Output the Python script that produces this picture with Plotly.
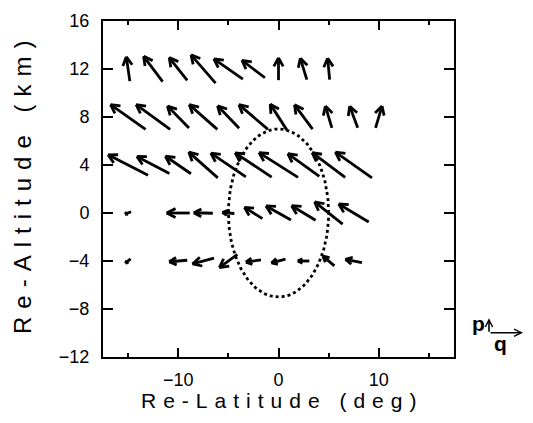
import numpy as np
import plotly.graph_objects as go

# ---------------- data ----------------
# wind vectors (relative components, arbitrary units) at each altitude level
alt_levels = [12, 8, 4, 0, -4]
lat_12 = [-15, -12.5, -10, -7.5, -5, -2.5, 0, 2.5, 5]
u_12 = [-0.35, -1.9, -1.8, -2.45, -2.9, -2.3, 0.0, -0.65, -0.2]
w_12 = [2.5, 2.6, 2.35, 2.9, 2.1, 1.8, 2.3, 2.2, 2.2]

lat_8 = [-15, -12.5, -10, -7.5, -5, -2.5, 0, 2.5, 5, 7.5, 10]
u_8 = [-3.5, -3.4, -2.15, -2.8, -2.15, -2.9, -1.65, -1.8, -0.65, -0.8, 0.65]
w_8 = [2.55, 2.55, 2.25, 2.55, 2.3, 2.55, 2.65, 2.5, 2.25, 2.2, 2.25]

lat_4 = [-15, -12.5, -10, -7.5, -5, -2.5, 0, 2.5, 5, 7.5]
u_4 = [-4.0, -3.25, -2.55, -2.9, -3.5, -3.65, -3.9, -3.15, -3.3, -3.65]
w_4 = [2.1, 1.75, 1.8, 2.65, 2.45, 2.5, 2.55, 2.35, 2.55, 2.65]

lat_0 = [-15, -10, -7.5, -5, -2.5, 0, 2.5, 5, 7.5]
u_0 = [-0.6, -2.3, -1.9, -1.2, -1.8, -2.5, -2.4, -2.8, -3.0]
w_0 = [-0.25, 0.0, 0.05, 0.1, 1.15, 1.45, 1.5, 2.3, 1.85]

lat_m4 = [-15, -10, -7.5, -5, -2.5, 0, 2.5, 5, 7.5]
u_m4 = [-0.5, -1.8, -2.15, -1.8, -1.5, -1.4, -1.15, -1.15, -1.65]
w_m4 = [-0.45, -0.15, -0.6, -1.35, -0.25, -0.4, 0.0, 1.0, 0.35]

# ellipse (region of interest)
ell_center = (0, 0)
ell_axes = (5, 7)

x_range = [-17.5, 17.5]
y_range = [-12, 16]
y_ticks = [-12, -8, -4, 0, 4, 8, 12, 16]
x_ticks = [-10, 0, 10]

# ---------------- layout geometry ----------------
W, H = 533, 423
ML, MR, MT, MB = 103, 79, 11, 66
PW = W - ML - MR
PH = H - MT - MB
px_x = PW / (x_range[1] - x_range[0])
px_y = PH / (y_range[1] - y_range[0])
SCALE = 10.0  # px per vector unit

rows = [
    (12, lat_12, u_12, w_12),
    (8, lat_8, u_8, w_8),
    (4, lat_4, u_4, w_4),
    (0, lat_0, u_0, w_0),
    (-4, lat_m4, u_m4, w_m4),
]

xs, ys = [], []
for alt, lats, us, ws in rows:
    for lat, u, w in zip(lats, us, ws):
        dxp, dyp = u * SCALE, w * SCALE
        L = np.hypot(dxp, dyp)
        if L == 0:
            continue
        tx, ty = -dxp / 2, -dyp / 2
        hx, hy = dxp / 2, dyp / 2
        xs += [lat + tx / px_x, lat + hx / px_x, None]
        ys += [alt + ty / px_y, alt + hy / px_y, None]
        hl = min(10.0, 0.45 * L)
        ang = np.arctan2(dyp, dxp)
        for s in (1, -1):
            a = ang + np.pi + s * np.radians(28)
            bx = hx + hl * np.cos(a)
            by = hy + hl * np.sin(a)
            xs += [lat + hx / px_x, lat + bx / px_x, None]
            ys += [alt + hy / px_y, alt + by / px_y, None]

fig = go.Figure()
fig.add_trace(go.Scatter(x=xs, y=ys, mode="lines",
                         line=dict(color="black", width=2.8),
                         hoverinfo="skip", showlegend=False))

t = np.linspace(0, 2 * np.pi, 200)
fig.add_trace(go.Scatter(x=ell_center[0] + ell_axes[0] * np.cos(t),
                         y=ell_center[1] + ell_axes[1] * np.sin(t),
                         mode="lines",
                         line=dict(color="black", width=2.8, dash="dot"),
                         hoverinfo="skip", showlegend=False))

font_fam = "Liberation Sans, Arial, Helvetica, sans-serif"

def spaced(s, sp):
    return sp.join(list(s))

axis_common = dict(
    showline=True, linecolor="black", linewidth=2, mirror="ticks",
    ticks="inside", tickcolor="black", tickwidth=1.5,
    showgrid=False, zeroline=False,
    tickfont=dict(family=font_fam, size=18, color="black"),
)

fig.update_layout(
    width=W, height=H,
    margin=dict(l=ML, r=MR, t=MT, b=MB),
    paper_bgcolor="white", plot_bgcolor="white",
    xaxis=dict(range=x_range, tickvals=x_ticks, ticklen=9,
               minor=dict(dtick=5, tick0=0, ticklen=4, ticks="inside",
                          tickcolor="black", tickwidth=1.5),
               ticklabelstandoff=5, **axis_common),
    yaxis=dict(range=y_range, tickvals=y_ticks, ticklen=10,
               ticklabelstandoff=8, **axis_common),
    showlegend=False,
)

fig.add_annotation(text=spaced("Re-Latitude (deg)", "\u2004"),
                   xref="paper", yref="paper", x=0.5, y=(357 - 402) / PH,
                   xanchor="center", yanchor="middle", showarrow=False,
                   font=dict(family=font_fam, size=21, color="black"))
fig.add_annotation(text=spaced("Re-Altitude (km)", "\u2004"),
                   xref="paper", yref="paper", x=(22 - ML) / PW, y=(357 - 183) / PH,
                   xanchor="center", yanchor="middle", textangle=-90, showarrow=False,
                   font=dict(family=font_fam, size=24, color="black"))

# p / q legend
def px2paper(px, py):
    return (px - ML) / PW, (MT + PH - py) / PH

x0, y0 = px2paper(489, 332)
fig.add_annotation(x=x0, y=y0 + 15 / PH, xref="paper", yref="paper",
                   ax=0, ay=15, axref="pixel", ayref="pixel", text="",
                   showarrow=True, arrowhead=5, arrowwidth=1.6, arrowsize=0.9,
                   arrowcolor="black")
fig.add_annotation(x=x0 + 34 / PW, y=y0, xref="paper", yref="paper",
                   ax=-34, ay=0, axref="pixel", ayref="pixel", text="",
                   showarrow=True, arrowhead=5, arrowwidth=1.6, arrowsize=0.9,
                   arrowcolor="black")
xp, yp = px2paper(478, 322)
fig.add_annotation(x=xp, y=yp, xref="paper", yref="paper", text="<b>p</b>",
                   showarrow=False, xanchor="center", yanchor="middle",
                   font=dict(family=font_fam, size=21, color="black"))
xq, yq = px2paper(501, 343)
fig.add_annotation(x=xq, y=yq, xref="paper", yref="paper", text="<b>q</b>",
                   showarrow=False, xanchor="center", yanchor="middle",
                   font=dict(family=font_fam, size=21, color="black"))

fig.write_html("out.html")
